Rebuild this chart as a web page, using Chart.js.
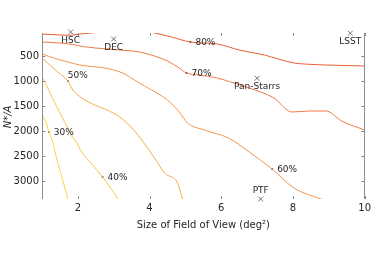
<!DOCTYPE html>
<html>
<head>
<meta charset="utf-8">
<script src="https://cdn.jsdelivr.net/npm/chart.js@4.4.0/dist/chart.umd.min.js"></script>
<style>
  html, body { margin: 0; padding: 0; background: #fff; }
</style>
</head>
<body>
<canvas id="fov" width="374" height="264"></canvas>
<script>
// contour levels (completeness)
const levels = ['80%', '70%', '60%', '50%', '40%', '30%'];
const levelColors = ['#eb5f36', '#f07a45', '#f4954c', '#f6ad4a', '#f7c54a', '#f7d640'];

// each contour: [field of view (deg^2), N*/A]
const line80 = [[1.0, 60], [1.5, 80], [1.78, 86], [2.06, 60], [2.69, 20], [3.44, -40], [4.14, 40],
  [4.61, 120], [5.14, 220], [5.89, 260], [6.5, 380], [7.2, 480], [8.03, 640], [8.31, 660], [10.0, 700]];
const line70 = [[1.0, 220], [1.5, 240], [1.86, 270], [2.14, 310], [2.81, 360], [3.17, 380], [3.72, 420],
  [4.14, 500], [4.5, 600], [4.83, 740], [5.03, 840], [5.39, 880], [5.89, 940], [6.22, 1010], [6.78, 1140],
  [7.47, 1340], [7.97, 1620], [8.44, 1600], [8.92, 1600], [9.36, 1800], [10.0, 1980]];
const line60 = [[1.0, 460], [1.42, 560], [1.83, 640], [2.06, 680], [2.89, 760], [3.31, 860], [3.58, 980],
  [3.86, 1100], [4.5, 1380], [4.83, 1620], [5.06, 1840], [5.53, 1980], [6.2, 2140], [6.78, 2420],
  [7.42, 2760], [8.03, 3140], [8.78, 3360], [9.0, 3420]];
const line50 = [[1.0, 540], [1.22, 680], [1.44, 820], [1.72, 1000], [1.86, 1180], [2.11, 1340], [2.47, 1480],
  [2.81, 1580], [3.17, 1720], [3.58, 2000], [3.78, 2180], [4.14, 2540], [4.42, 2840], [4.78, 3040], [4.92, 3360], [4.95, 3420]];
const line40 = [[1.0, 920], [1.11, 1060], [1.22, 1240], [1.36, 1440], [1.5, 1640], [1.69, 1900], [1.86, 2140],
  [1.92, 2180], [2.11, 2420], [2.39, 2660], [2.69, 2920], [2.89, 3120], [3.11, 3360], [3.14, 3420]];
const line30 = [[1.0, 1680], [1.11, 1820], [1.19, 2020], [1.28, 2180], [1.42, 2580], [1.56, 2940], [1.72, 3360], [1.74, 3420]];
const contours = [line80, line70, line60, line50, line40, line30];

// where each level is labelled
const labelX = [5.14, 5.03, 7.42, 1.72, 2.69, 1.19];
const labelY = [220, 840, 2760, 1000, 2920, 2020];

// surveys
const scopes = ['HSC', 'DEC', 'LSST', 'Pan-Starrs', 'PTF'];
const scopeX = [1.8, 3.0, 9.6, 7.0, 7.1];
const scopeY = [20, 160, 45, 945, 3360];

const xTicks = [2, 4, 6, 8, 10];
const yTicks = [500, 1000, 1500, 2000, 2500, 3000];

const textColor = '#262626';
const axisColor = '#8c8c8c';
const fontFamily = '"DejaVu Sans", sans-serif';

const datasets = contours.map((pts, i) => ({
  label: levels[i],
  data: pts.map(p => ({ x: p[0], y: p[1] })),
  showLine: true,
  borderColor: levelColors[i],
  borderWidth: 1,
  pointRadius: 0,
  cubicInterpolationMode: 'monotone'
}));

datasets.push({
  label: 'labels',
  data: labelX.map((x, i) => ({ x: x, y: labelY[i] })),
  pointStyle: 'rect',
  pointRadius: 1,
  backgroundColor: '#000',
  borderWidth: 0
});

datasets.push({
  label: 'scopes',
  data: scopeX.map((x, i) => ({ x: x, y: scopeY[i] })),
  pointStyle: 'crossRot',
  pointRadius: 3.5,
  borderColor: '#555',
  borderWidth: 0.8,
  clip: false
});

// spines, inward ticks, axis titles, text labels
const decor = {
  id: 'decor',
  afterDatasetsDraw(chart) {
    const ctx = chart.ctx;
    const a = chart.chartArea;
    const xs = chart.scales.x, ys = chart.scales.y;
    ctx.save();
    ctx.strokeStyle = axisColor;
    ctx.lineWidth = 1;
    ctx.beginPath();
    ctx.moveTo(Math.round(a.left) + 0.5, a.top);
    ctx.lineTo(Math.round(a.left) + 0.5, a.bottom);
    ctx.moveTo(Math.round(a.right) - 0.5, a.top);
    ctx.lineTo(Math.round(a.right) - 0.5, a.bottom);
    yTicks.forEach(v => {
      const py = Math.round(ys.getPixelForValue(v)) + 0.5;
      ctx.moveTo(a.left, py); ctx.lineTo(a.left + 3.5, py);
      ctx.moveTo(a.right, py); ctx.lineTo(a.right - 3.5, py);
    });
    xTicks.forEach(v => {
      const px = Math.round(xs.getPixelForValue(v)) + 0.5;
      ctx.moveTo(px, a.bottom); ctx.lineTo(px, a.bottom - 3);
      ctx.moveTo(px, a.top); ctx.lineTo(px, a.top + 3);
    });
    ctx.stroke();

    ctx.fillStyle = textColor;
    ctx.textBaseline = 'middle';

    // contour labels
    ctx.font = '9px ' + fontFamily;
    ctx.textAlign = 'left';
    levels.forEach((t, i) => {
      const px = xs.getPixelForValue(labelX[i]);
      const py = ys.getPixelForValue(labelY[i]);
      if (t === '50%') ctx.fillText(t, px, py - 5);
      else ctx.fillText(t, px + 5, py + 1);
    });

    // survey names
    ctx.textAlign = 'center';
    scopes.forEach((t, i) => {
      const px = xs.getPixelForValue(scopeX[i]);
      const py = ys.getPixelForValue(scopeY[i]);
      ctx.fillText(t, px, t === 'PTF' ? py - 8 : py + 8.5);
    });

    // axis titles
    ctx.font = '10px ' + fontFamily;
    ctx.fillText('Size of Field of View (deg\u00b2)', (a.left + a.right) / 2, 225);
    ctx.save();
    ctx.translate(8, (a.top + a.bottom) / 2 + 1);
    ctx.rotate(-Math.PI / 2);
    ctx.font = 'italic 10px ' + fontFamily;
    ctx.fillText('N*/A', 0, 0);
    ctx.restore();
    ctx.restore();
  }
};

new Chart(document.getElementById('fov').getContext('2d'), {
  type: 'scatter',
  data: { datasets: datasets },
  options: {
    responsive: false,
    devicePixelRatio: 1,
    animation: false,
    layout: { padding: { left: 0, right: 8, top: 33, bottom: 0 } },
    plugins: { legend: { display: false }, tooltip: { enabled: false } },
    scales: {
      x: {
        type: 'linear', min: 1, max: 10,
        afterBuildTicks: s => { s.ticks = xTicks.map(v => ({ value: v })); },
        afterFit: s => { s.height = 65; },
        grid: { display: false, drawTicks: false },
        border: { display: false },
        ticks: { padding: 3, color: textColor, font: { family: fontFamily, size: 10 },
          callback: v => String(v) }
      },
      y: {
        type: 'linear', reverse: true, min: 40, max: 3360,
        afterBuildTicks: s => { s.ticks = yTicks.map(v => ({ value: v })); },
        afterFit: s => { s.width = 42; },
        grid: { display: false, drawTicks: false },
        border: { display: false },
        ticks: { padding: 3, color: textColor, font: { family: fontFamily, size: 10 },
          callback: v => String(v) }
      }
    }
  },
  plugins: [decor]
});
</script>
</body>
</html>
